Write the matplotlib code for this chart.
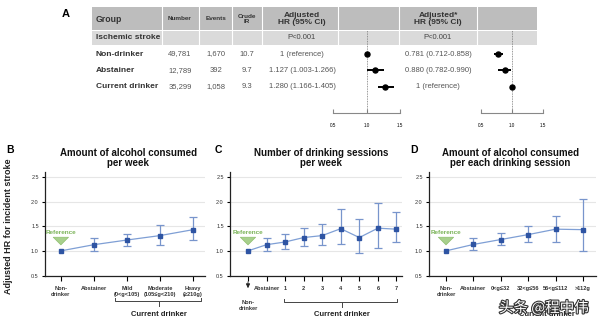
import matplotlib
matplotlib.use("Agg")
from matplotlib import pyplot as plt
from matplotlib import patheffects

plt.rcParams['font.family'] = ['Liberation Sans', 'DejaVu Sans']

# panel A table
groups = ['Non-drinker', 'Abstainer', 'Current drinker']
number = ['49,781', '12,789', '35,299']
events = ['1,670', '392', '1,058']
crude_ir = ['10.7', '9.7', '9.3']
hr1 = [1.0, 1.127, 1.280]
lo1 = [1.0, 1.003, 1.166]
hi1 = [1.0, 1.266, 1.405]
hr1_txt = ['1 (reference)', '1.127 (1.003-1.266)', '1.280 (1.166-1.405)']
hr2 = [0.781, 0.880, 1.0]
lo2 = [0.712, 0.782, 1.0]
hi2 = [0.858, 0.990, 1.0]
hr2_txt = ['0.781 (0.712-0.858)', '0.880 (0.782-0.990)', '1 (reference)']

# panel B
b_labels = ['Non-\ndrinker', 'Abstainer', 'Mild\n(0<g<105)', 'Moderate\n(105\u2264g<210)', 'Heavy\n(\u2265210g)']
b_hr = [1.0, 1.125, 1.22, 1.31, 1.43]
b_lo = [1.0, 1.00, 1.09, 1.12, 1.22]
b_hi = [1.0, 1.27, 1.35, 1.52, 1.69]

# panel C
c_labels = ['', 'Abstainer', '1', '2', '3', '4', '5', '6', '7']
c_hr = [1.0, 1.125, 1.18, 1.27, 1.31, 1.45, 1.27, 1.46, 1.44]
c_lo = [1.0, 1.00, 1.03, 1.10, 1.12, 1.13, 0.96, 1.06, 1.18]
c_hi = [1.0, 1.27, 1.34, 1.47, 1.55, 1.84, 1.64, 1.97, 1.78]

# panel D
d_labels = ['Non-\ndrinker', 'Abstainer', '0<g\u226432', '32<g\u226456', '56<g\u2264112', '>112g']
d_hr = [1.0, 1.13, 1.23, 1.33, 1.44, 1.43]
d_lo = [1.0, 1.01, 1.11, 1.17, 1.17, 0.99]
d_hi = [1.0, 1.27, 1.37, 1.51, 1.71, 2.06]

W, H = 600, 326
fig = plt.figure(figsize=(6, 3.26), dpi=100)


def rect(x0, y0, x1, y1):
    return [x0 / W, 1 - y1 / H, (x1 - x0) / W, (y1 - y0) / H]


ov = fig.add_axes([0, 0, 1, 1])
ov.set_xlim(0, W)
ov.set_ylim(H, 0)
ov.axis('off')

# ---- table A ----
ov.text(66, 14, 'A', fontsize=8, fontweight='bold', ha='center', va='center')
ov.add_patch(plt.Rectangle((92, 7), 445, 23, fc='#bdbdbd', ec='none'))
ov.add_patch(plt.Rectangle((92, 31), 445, 14, fc='#dadada', ec='none'))
for sx in [162, 199, 232, 262, 338, 399, 477]:
    ov.plot([sx, sx], [7, 45], color='white', lw=0.8)

hc = '#333333'
ov.text(96, 19, 'Group', fontsize=6.3, fontweight='bold', va='center', color=hc)
ov.text(180, 19, 'Number', fontsize=4.6, fontweight='bold', ha='center', va='center', color=hc)
ov.text(216, 19, 'Events', fontsize=4.6, fontweight='bold', ha='center', va='center', color=hc)
ov.text(247, 19, 'Crude\nIR', fontsize=4.6, fontweight='bold', ha='center', va='center', color=hc, linespacing=1.0)
ov.text(302, 19, 'Adjusted\nHR (95% CI)', fontsize=6, fontweight='bold', ha='center', va='center', color=hc, linespacing=1.0)
ov.text(438, 19, 'Adjusted*\nHR (95% CI)', fontsize=6, fontweight='bold', ha='center', va='center', color=hc, linespacing=1.0)
ov.text(96, 37.5, 'Ischemic stroke', fontsize=6, fontweight='bold', va='center', color=hc)
ov.text(302, 37.5, 'P<0.001', fontsize=5.5, ha='center', va='center', color='#444444')
ov.text(438, 37.5, 'P<0.001', fontsize=5.5, ha='center', va='center', color='#444444')

row_y = [54, 71, 87]
for i, g in enumerate(groups):
    y = row_y[i]
    ov.text(96, y, g, fontsize=6, fontweight='bold', va='center', color=hc)
    ov.text(180, y, number[i], fontsize=5.5, ha='center', va='center', color='#555555')
    ov.text(216, y, events[i], fontsize=5.5, ha='center', va='center', color='#555555')
    ov.text(247, y, crude_ir[i], fontsize=5.5, ha='center', va='center', color='#555555')
    ov.text(302, y, hr1_txt[i], fontsize=5.5, ha='center', va='center', color='#555555')
    ov.text(438, y, hr2_txt[i], fontsize=5.5, ha='center', va='center', color='#555555')


def forest(x0, x1, hr, lo, hi):
    fa = fig.add_axes(rect(x0, 30, x1, 113))
    fa.patch.set_alpha(0)
    fa.set_xlim(0.5, 1.5)
    fa.set_ylim(3.58, -1.45)
    for s in ['top', 'left', 'right']:
        fa.spines[s].set_visible(False)
    fa.spines['bottom'].set_color('#888888')
    fa.spines['bottom'].set_linewidth(0.8)
    fa.set_yticks([])
    fa.set_xticks([0.5, 1.0, 1.5])
    fa.set_xticklabels(['0.5', '1.0', '1.5'])
    fa.tick_params(axis='x', direction='in', length=3, width=0.8, color='#888888',
                   labelsize=3.3, pad=7)
    fa.axvline(1.0, color='#777777', lw=0.6, ls=(0, (1, 1)))
    for i in range(len(hr)):
        if lo[i] != hi[i]:
            fa.plot([lo[i], hi[i]], [i, i], color='black', lw=1.4, solid_capstyle='butt')
        fa.plot(hr[i], i, marker='o', ms=3.6, color='black')
    return fa


forest(333, 400, hr1, lo1, hi1)
forest(481, 543, hr2, lo2, hi2)

# ---- panels B, C, D ----
line_c = '#7f9fd5'
err_c = '#7895cc'
mk_c = '#2e54a3'


def panel(x0, x1, xl, pos, hr, lo, hi, labels):
    ax = fig.add_axes(rect(x0, 172, x1, 275.5))
    ax.set_xlim(*xl)
    ax.set_ylim(0.5, 2.6)
    for s in ['top', 'right']:
        ax.spines[s].set_visible(False)
    for s in ['left', 'bottom']:
        ax.spines[s].set_color('#222222')
        ax.spines[s].set_linewidth(0.9)
    ax.set_yticks([0.5, 1.0, 1.5, 2.0, 2.5])
    ax.set_yticklabels(['0.5', '1.0', '1.5', '2.0', '2.5'])
    ax.yaxis.grid(True, color='#e6e6e6', lw=0.8)
    ax.set_axisbelow(True)
    ax.set_xticks(pos)
    ax.set_xticklabels(labels, fontsize=4.1, fontweight='bold', color='#333333', linespacing=1.3)
    ax.tick_params(axis='y', length=2.5, width=0.8, labelsize=4, pad=2, labelcolor='#333333')
    ax.tick_params(axis='x', length=3.5, width=0.8, pad=4)
    yerr = [[h - l for h, l in zip(hr, lo)], [u - h for h, u in zip(hr, hi)]]
    ax.errorbar(pos[1:], hr[1:], yerr=[yerr[0][1:], yerr[1][1:]], fmt='none',
                ecolor=err_c, elinewidth=0.9, capsize=3, capthick=0.9)
    ax.plot(pos, hr, color=line_c, lw=0.9, marker='s', ms=2.2, mfc=mk_c, mec=mk_c)
    ax.annotate('', xy=(pos[0], 1.065), xytext=(pos[0], 1.29),
                arrowprops=dict(arrowstyle='simple,head_length=0.55,head_width=1.1,tail_width=0.6',
                                fc='#a8d08d', ec='#8fbf6f', lw=0.5))
    ax.text(pos[0], 1.37, 'Reference', fontsize=4.6, fontweight='bold', color='#7cb45a',
            ha='center', va='center')
    return ax


b_pos = list(range(len(b_labels)))
c_pos = list(range(len(c_labels)))
d_pos = list(range(len(d_labels)))

panel(45, 205, (-0.48, 4.36), b_pos, b_hr, b_lo, b_hi, b_labels)
panel(230, 402, (-0.97, 8.3), c_pos, c_hr, c_lo, c_hi, c_labels)
panel(429, 596, (-0.62, 5.47), d_pos, d_hr, d_lo, d_hi, d_labels)

# titles, labels
tk = dict(fontsize=7, fontweight='bold', ha='center', va='center', linespacing=1.05, color='#111111')
ov.text(10, 150, 'B', fontsize=7.5, fontweight='bold', ha='center', va='center')
ov.text(218, 150, 'C', fontsize=7.5, fontweight='bold', ha='center', va='center')
ov.text(414, 150, 'D', fontsize=7.5, fontweight='bold', ha='center', va='center')
ov.text(128, 158, 'Amount of alcohol consumed\nper week', **tk)
ov.text(321, 158, 'Number of drinking sessions\nper week', **tk)
ov.text(510, 158, 'Amount of alcohol consumed\nper each drinking session', **tk)
for px in [127, 322, 512]:
    ov.text(px, 192, 'p<0.001', fontsize=6.3, ha='center', va='center', color='#333333')
ov.text(9, 226, 'Adjusted HR for incident stroke', fontsize=6.5, fontweight='bold',
        rotation=90, ha='center', va='center', color='#222222')

# brackets for current drinker
bc = '#444444'
for xa, xb, xm, yb in [(115, 201, 159, 301), (284, 397, 342, 302)]:
    ov.plot([xa, xa, xb, xb], [yb - 3, yb, yb, yb - 3], color=bc, lw=0.7)
    ov.plot([xm, xm], [yb, yb + 5], color=bc, lw=0.7)
ov.text(159, 315, 'Current drinker', fontsize=5.5, fontweight='bold', ha='center', va='center', color='#222222')
ov.text(342, 314, 'Current drinker', fontsize=5.5, fontweight='bold', ha='center', va='center', color='#222222')
ov.text(547, 314, 'Current drinker', fontsize=5.5, fontweight='bold', ha='center', va='center', color='#222222')

# non-drinker arrow in C
ov.annotate('', xy=(248, 291), xytext=(248, 279),
            arrowprops=dict(arrowstyle='-|>,head_length=0.25,head_width=0.12', color='#222222', lw=0.6))
ov.text(248, 300, 'Non-\ndrinker', fontsize=4.1, fontweight='bold', ha='center', va='top',
        color='#333333', linespacing=1.3)

# watermark
fig.text(544 / W, 1 - 308 / H, '头条 @程中伟', fontsize=10.5, ha='center', va='center',
         color='white', family=['Noto Sans CJK SC', 'DejaVu Sans'], zorder=10,
         path_effects=[patheffects.withStroke(linewidth=1.6, foreground='#333333')])

fig.savefig('out.png', dpi=100)
